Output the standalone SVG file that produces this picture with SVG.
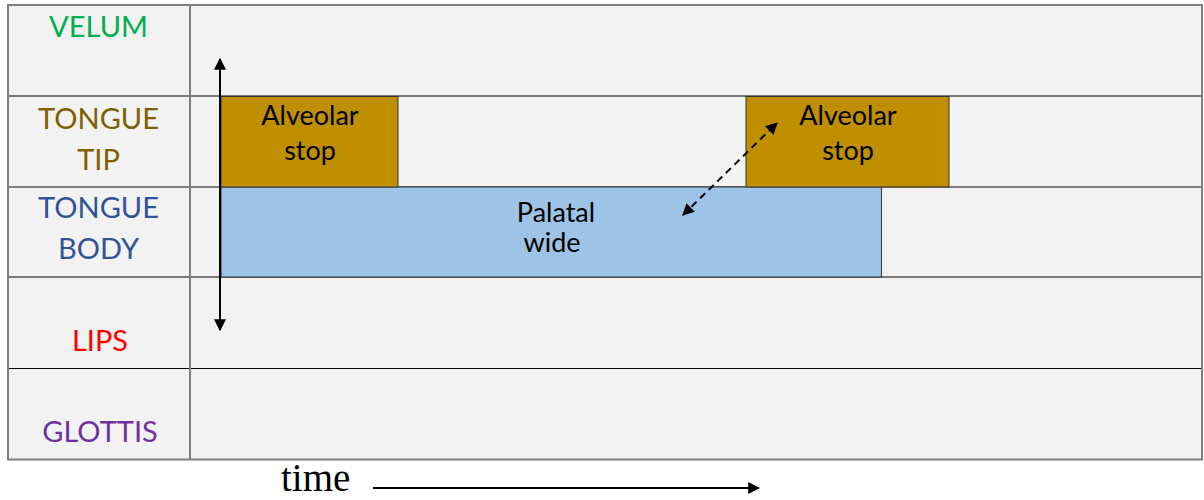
<svg xmlns="http://www.w3.org/2000/svg" width="1204" height="500" viewBox="0 0 1204 500">
  <defs>
    <style>
      .lbl { font-family: Lato, "Open Sans", "Liberation Sans", sans-serif; font-size: 29px; text-anchor: middle; }
      .blk { font-family: Lato, "Open Sans", "Liberation Sans", sans-serif; font-size: 27px; text-anchor: middle; fill: #000; }
      .grid { stroke: #000; stroke-width: 1.2; }
      .gridg { stroke: #7f7f7f; stroke-width: 2; }
      .stopbox { fill: #bf8f00; stroke: #333; stroke-width: 1; }
      .palbox { fill: #9dc3e6; stroke: #333; stroke-width: 1; }
      .arr { stroke: #000; stroke-width: 2; fill: none; }
    </style>
    <marker id="head" viewBox="0 0 10 10" refX="9" refY="5" markerWidth="6" markerHeight="6" orient="auto-start-reverse" markerUnits="strokeWidth">
      <path d="M0,0 L10,5 L0,10 z" fill="#000"/>
    </marker>
  </defs>

  <!-- table background and rules -->
  <g id="table">
    <rect x="8" y="5" width="1194" height="454.5" fill="#f2f2f2"/>
    <line class="grid" x1="8" y1="96" x2="1202" y2="96"/>
    <line class="gridg" x1="8" y1="187" x2="1202" y2="187"/>
    <line class="grid" x1="8" y1="277" x2="1202" y2="277"/>
    <line class="grid" x1="8" y1="368.5" x2="1202" y2="368.5"/>
    <line class="gridg" x1="190" y1="5" x2="190" y2="459.5"/>
    <rect x="8" y="5" width="1194" height="454.5" fill="none" stroke="#7f7f7f" stroke-width="2"/>
  </g>

  <!-- articulator labels -->
  <g id="label-velum"><text class="lbl" x="98.5" y="37" fill="#00b050">VELUM</text></g>
  <g id="label-tongue-tip">
    <text class="lbl" x="98.5" y="129" fill="#7f6000">TONGUE</text>
    <text class="lbl" x="98.5" y="170" fill="#7f6000">TIP</text>
  </g>
  <g id="label-tongue-body">
    <text class="lbl" x="98.5" y="218" fill="#2f5597">TONGUE</text>
    <text class="lbl" x="98.5" y="259" fill="#2f5597">BODY</text>
  </g>
  <g id="label-lips"><text class="lbl" x="100" y="351" fill="#ff0000">LIPS</text></g>
  <g id="label-glottis"><text class="lbl" x="100" y="442" fill="#7030a0">GLOTTIS</text></g>

  <!-- gestures -->
  <g id="palatal-wide">
    <rect class="palbox" x="221" y="187" width="660.5" height="90"/>
    <text class="blk" x="556" y="222">Palatal</text>
    <text class="blk" x="552" y="252">wide</text>
  </g>
  <g id="alveolar-stop-1">
    <rect class="stopbox" x="221" y="96.5" width="177" height="90.5"/>
    <text class="blk" x="310" y="125">Alveolar</text>
    <text class="blk" x="310" y="160">stop</text>
  </g>
  <g id="alveolar-stop-2">
    <rect class="stopbox" x="746" y="96.5" width="203" height="90.5"/>
    <text class="blk" x="848" y="125">Alveolar</text>
    <text class="blk" x="848" y="160">stop</text>
  </g>

  <!-- connectors -->
  <g id="connectors">
    <line class="arr" x1="220" y1="59" x2="220" y2="330" marker-start="url(#head)" marker-end="url(#head)"/>
    <line class="arr" x1="683" y1="215" x2="777" y2="123" stroke-dasharray="7 5" marker-start="url(#head)" marker-end="url(#head)"/>
    <line class="arr" x1="373" y1="488" x2="759" y2="488" stroke-width="2.5" marker-end="url(#head)"/>
  </g>

  <g id="time-label">
    <text x="281" y="491" font-family="'Liberation Serif', 'Times New Roman', serif" font-size="39" fill="#000">time</text>
  </g>
</svg>
